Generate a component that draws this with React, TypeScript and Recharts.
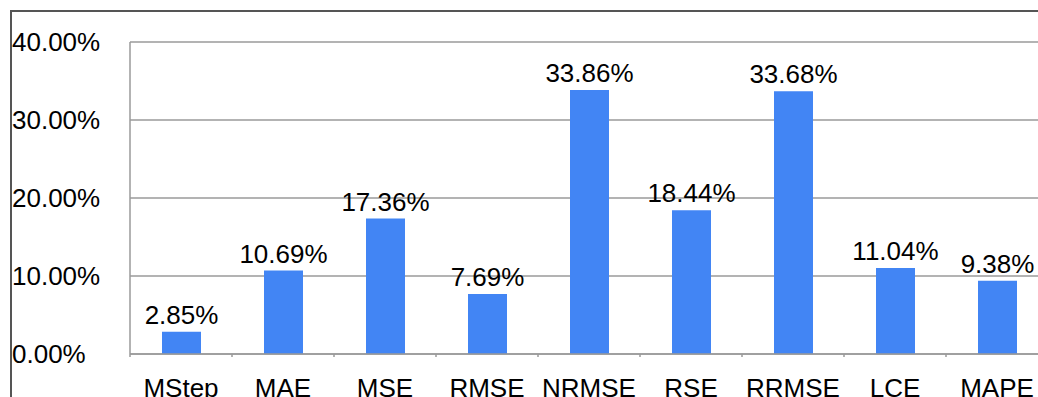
import { BarChart, Bar, XAxis, YAxis, CartesianGrid, LabelList } from 'recharts';

const categories = ['MStep', 'MAE', 'MSE', 'RMSE', 'NRMSE', 'RSE', 'RRMSE', 'LCE', 'MAPE'];
const values = [0.0285, 0.1069, 0.1736, 0.0769, 0.3386, 0.1844, 0.3368, 0.1104, 0.0938];
const yTicks = [0, 0.1, 0.2, 0.3, 0.4];

const data = categories.map((name, i) => ({ name, value: values[i] }));

const CHART_W = 1048;
const Y_AXIS_W = 130;
const BAND = (CHART_W - Y_AXIS_W) / categories.length;
const FONT = '"Liberation Sans", Arial, sans-serif';
const GRID = '#9a9a9a';

const pct = (v: number) => `${(v * 100).toFixed(2)}%`;

function XTick(props: any) {
    const { x, y, payload } = props;
    return (
        <g>
            <line x1={x - BAND / 2} y1={y} x2={x - BAND / 2} y2={y + 3} stroke={GRID} strokeWidth={1.5} />
            <text x={x} y={y + 43} textAnchor='middle' fontSize={26} fontFamily={FONT} fill='#000'>
                {payload.value}
            </text>
        </g>
    );
}

function YTick(props: any) {
    const { y, payload } = props;
    return (
        <text x={12} y={y + 9} textAnchor='start' fontSize={26} fontFamily={FONT} fill='#000'>
            {pct(payload.value)}
        </text>
    );
}

function ValueLabel(props: any) {
    const { x, y, width, value } = props;
    return (
        <text x={x + width / 2} y={y - 8} textAnchor='middle' fontSize={26} fontFamily={FONT} fill='#000'>
            {pct(value)}
        </text>
    );
}

export default function App() {
    return (
        <div style={{ position: 'absolute', left: 0, top: 0, width: 1038, height: 397, overflow: 'hidden', background: '#fff' }}>
            <div style={{ position: 'absolute', left: 10, top: 10, width: 1100, height: 500, borderLeft: '2px solid #555', borderTop: '2px solid #555' }} />
            <div style={{ position: 'absolute', left: 0, top: 0 }}>
                <BarChart width={CHART_W} height={397} data={data} margin={{ top: 42, right: 0, bottom: 0, left: 0 }} barCategoryGap={0}>
                    <CartesianGrid vertical={false} stroke={GRID} strokeWidth={1.5} />
                    <XAxis
                        dataKey='name'
                        height={43}
                        tickSize={0}
                        tickMargin={0}
                        interval={0}
                        axisLine={{ stroke: GRID, strokeWidth: 1.5 }}
                        tick={<XTick />}
                    />
                    <YAxis
                        width={Y_AXIS_W}
                        domain={[0, 0.4]}
                        ticks={yTicks}
                        tickLine={false}
                        axisLine={{ stroke: GRID, strokeWidth: 1.5 }}
                        tick={<YTick />}
                    />
                    <Bar dataKey='value' fill='#4285f4' barSize={39} isAnimationActive={false}>
                        <LabelList dataKey='value' content={<ValueLabel />} />
                    </Bar>
                </BarChart>
            </div>
        </div>
    );
}
